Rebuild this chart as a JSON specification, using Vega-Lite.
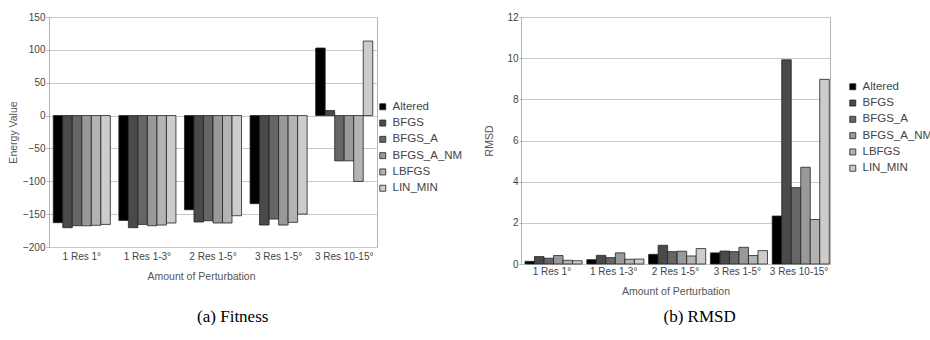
{
  "$schema": "https://vega.github.io/schema/vega-lite/v6.json",
  "padding": {"left": 7, "top": 11, "right": 0, "bottom": 0},
  "background": "white",
  "datasets": {
    "fitness": [
      {"perturb": "1 Res 1°", "method": "Altered", "value": -163},
      {"perturb": "1 Res 1°", "method": "BFGS", "value": -170.6},
      {"perturb": "1 Res 1°", "method": "BFGS_A", "value": -167.6},
      {"perturb": "1 Res 1°", "method": "BFGS_A_NM", "value": -167.8},
      {"perturb": "1 Res 1°", "method": "LBFGS", "value": -167},
      {"perturb": "1 Res 1°", "method": "LIN_MIN", "value": -165.6},
      {"perturb": "1 Res 1-3°", "method": "Altered", "value": -159.5},
      {"perturb": "1 Res 1-3°", "method": "BFGS", "value": -170.6},
      {"perturb": "1 Res 1-3°", "method": "BFGS_A", "value": -165.6},
      {"perturb": "1 Res 1-3°", "method": "BFGS_A_NM", "value": -167.6},
      {"perturb": "1 Res 1-3°", "method": "LBFGS", "value": -166.6},
      {"perturb": "1 Res 1-3°", "method": "LIN_MIN", "value": -163.5},
      {"perturb": "2 Res 1-5°", "method": "Altered", "value": -143.3},
      {"perturb": "2 Res 1-5°", "method": "BFGS", "value": -162},
      {"perturb": "2 Res 1-5°", "method": "BFGS_A", "value": -160},
      {"perturb": "2 Res 1-5°", "method": "BFGS_A_NM", "value": -163.5},
      {"perturb": "2 Res 1-5°", "method": "LBFGS", "value": -163.5},
      {"perturb": "2 Res 1-5°", "method": "LIN_MIN", "value": -152.4},
      {"perturb": "3 Res 1-5°", "method": "Altered", "value": -134},
      {"perturb": "3 Res 1-5°", "method": "BFGS", "value": -166.6},
      {"perturb": "3 Res 1-5°", "method": "BFGS_A", "value": -157.5},
      {"perturb": "3 Res 1-5°", "method": "BFGS_A_NM", "value": -166.6},
      {"perturb": "3 Res 1-5°", "method": "LBFGS", "value": -162.5},
      {"perturb": "3 Res 1-5°", "method": "LIN_MIN", "value": -150},
      {"perturb": "3 Res 10-15°", "method": "Altered", "value": 102.8},
      {"perturb": "3 Res 10-15°", "method": "BFGS", "value": 7.6},
      {"perturb": "3 Res 10-15°", "method": "BFGS_A", "value": -68.9},
      {"perturb": "3 Res 10-15°", "method": "BFGS_A_NM", "value": -68.9},
      {"perturb": "3 Res 10-15°", "method": "LBFGS", "value": -100.3},
      {"perturb": "3 Res 10-15°", "method": "LIN_MIN", "value": 113.4}
    ],
    "rmsd": [
      {"perturb": "1 Res 1°", "method": "Altered", "value": 0.13},
      {"perturb": "1 Res 1°", "method": "BFGS", "value": 0.36},
      {"perturb": "1 Res 1°", "method": "BFGS_A", "value": 0.28},
      {"perturb": "1 Res 1°", "method": "BFGS_A_NM", "value": 0.41},
      {"perturb": "1 Res 1°", "method": "LBFGS", "value": 0.18},
      {"perturb": "1 Res 1°", "method": "LIN_MIN", "value": 0.16},
      {"perturb": "1 Res 1-3°", "method": "Altered", "value": 0.21},
      {"perturb": "1 Res 1-3°", "method": "BFGS", "value": 0.42},
      {"perturb": "1 Res 1-3°", "method": "BFGS_A", "value": 0.31},
      {"perturb": "1 Res 1-3°", "method": "BFGS_A_NM", "value": 0.54},
      {"perturb": "1 Res 1-3°", "method": "LBFGS", "value": 0.23},
      {"perturb": "1 Res 1-3°", "method": "LIN_MIN", "value": 0.24},
      {"perturb": "2 Res 1-5°", "method": "Altered", "value": 0.47},
      {"perturb": "2 Res 1-5°", "method": "BFGS", "value": 0.91},
      {"perturb": "2 Res 1-5°", "method": "BFGS_A", "value": 0.6},
      {"perturb": "2 Res 1-5°", "method": "BFGS_A_NM", "value": 0.62},
      {"perturb": "2 Res 1-5°", "method": "LBFGS", "value": 0.39},
      {"perturb": "2 Res 1-5°", "method": "LIN_MIN", "value": 0.75},
      {"perturb": "3 Res 1-5°", "method": "Altered", "value": 0.54},
      {"perturb": "3 Res 1-5°", "method": "BFGS", "value": 0.63},
      {"perturb": "3 Res 1-5°", "method": "BFGS_A", "value": 0.6},
      {"perturb": "3 Res 1-5°", "method": "BFGS_A_NM", "value": 0.81},
      {"perturb": "3 Res 1-5°", "method": "LBFGS", "value": 0.41},
      {"perturb": "3 Res 1-5°", "method": "LIN_MIN", "value": 0.65},
      {"perturb": "3 Res 10-15°", "method": "Altered", "value": 2.33},
      {"perturb": "3 Res 10-15°", "method": "BFGS", "value": 9.92},
      {"perturb": "3 Res 10-15°", "method": "BFGS_A", "value": 3.71},
      {"perturb": "3 Res 10-15°", "method": "BFGS_A_NM", "value": 4.7},
      {"perturb": "3 Res 10-15°", "method": "LBFGS", "value": 2.16},
      {"perturb": "3 Res 10-15°", "method": "LIN_MIN", "value": 8.97}
    ]
  },
  "config": {
    "font": "Liberation Sans",
    "view": {"stroke": "#b4b4b4", "strokeWidth": 1},
    "axis": {
      "labelFont": "Liberation Sans",
      "labelFontSize": 10,
      "labelColor": "#444444",
      "titleFont": "Liberation Sans",
      "titleFontSize": 10.5,
      "titleFontWeight": "normal",
      "titleColor": "#555555",
      "domainColor": "#b4b4b4",
      "gridColor": "#c8c8c8",
      "tickColor": "#b4b4b4"
    },
    "legend": {
      "labelFont": "Liberation Sans",
      "labelFontSize": 11.5,
      "labelColor": "#444444",
      "symbolType": "square",
      "symbolSize": 36,
      "symbolStrokeColor": "#222222",
      "symbolStrokeWidth": 0.8,
      "labelOffset": 4,
      "rowPadding": 3.3,
      "padding": 0
    },
    "title": {
      "font": "Liberation Serif",
      "fontSize": 17,
      "fontWeight": "normal",
      "color": "#000000"
    }
  },
  "spacing": 19,
  "resolve": {"legend": {"color": "independent"}, "scale": {"color": "independent"}},
  "hconcat": [
    {
      "width": 328,
      "height": 230,
      "title": {"text": "(a) Fitness", "orient": "bottom", "anchor": "middle", "frame": "bounds", "offset": 27, "dx": -3},
      "data": {"name": "fitness"},
      "mark": {"type": "bar", "stroke": "#222222", "strokeWidth": 0.8},
      "encoding": {
        "x": {
          "field": "perturb", "type": "nominal", "sort": null,
          "scale": {"paddingInner": 0.13, "paddingOuter": 0.065},
          "axis": {"title": "Amount of Perturbation", "labelAngle": 0, "ticks": false, "labelPadding": 4, "titlePadding": 10, "domain": false, "titleX": 152}
        },
        "xOffset": {"field": "method", "type": "nominal", "sort": null},
        "y": {
          "field": "value", "type": "quantitative",
          "scale": {"domain": [-200, 150], "nice": false},
          "axis": {"title": "Energy Value", "values": [-200, -150, -100, -50, 0, 50, 100, 150], "tickSize": 3, "labelPadding": 1, "titlePadding": 4}
        },
        "color": {
          "field": "method", "type": "nominal", "sort": null,
          "scale": {"domain": ["Altered", "BFGS", "BFGS_A", "BFGS_A_NM", "LBFGS", "LIN_MIN"], "range": ["#000000", "#4a4a4a", "#666666", "#999999", "#b3b3b3", "#cccccc"]},
          "legend": {"title": null, "orient": "none", "legendX": 328, "legendY": 84}
        }
      }
    },
    {
      "width": 309,
      "height": 247,
      "title": {"text": "(b) RMSD", "orient": "bottom", "anchor": "middle", "frame": "bounds", "offset": 12, "dx": -9},
      "data": {"name": "rmsd"},
      "mark": {"type": "bar", "stroke": "#222222", "strokeWidth": 0.8},
      "encoding": {
        "x": {
          "field": "perturb", "type": "nominal", "sort": null,
          "scale": {"paddingInner": 0.13, "paddingOuter": 0.065},
          "axis": {"title": "Amount of Perturbation", "labelAngle": 0, "ticks": false, "labelPadding": 2, "titlePadding": 10, "domain": false}
        },
        "xOffset": {"field": "method", "type": "nominal", "sort": null},
        "y": {
          "field": "value", "type": "quantitative",
          "scale": {"domain": [0, 12], "nice": false},
          "axis": {"title": "RMSD", "values": [0, 2, 4, 6, 8, 10, 12], "tickSize": 2, "labelPadding": 1, "titlePadding": 12.6}
        },
        "color": {
          "field": "method", "type": "nominal", "sort": null,
          "scale": {"domain": ["Altered", "BFGS", "BFGS_A", "BFGS_A_NM", "LBFGS", "LIN_MIN"], "range": ["#000000", "#4a4a4a", "#666666", "#999999", "#b3b3b3", "#cccccc"]},
          "legend": {"title": null, "orient": "none", "legendX": 326, "legendY": 64}
        }
      }
    }
  ]
}
